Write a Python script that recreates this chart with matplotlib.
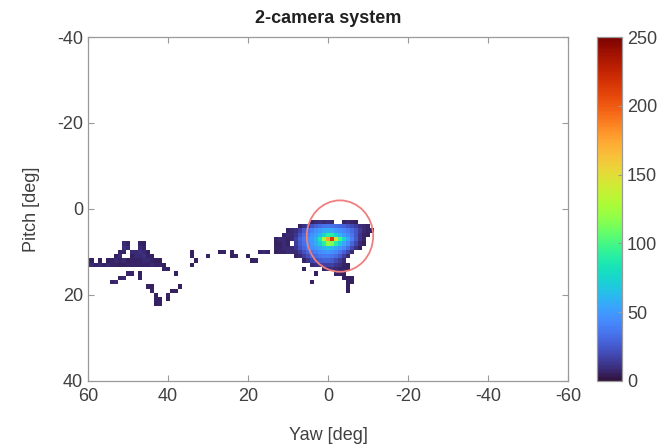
import numpy as np
import matplotlib
matplotlib.use("Agg")
import matplotlib.pyplot as plt
from matplotlib.patches import Circle

plt.rcParams['font.family'] = ['Liberation Sans', 'DejaVu Sans']
plt.rcParams['axes.unicode_minus'] = False

# ---- data (1-degree bins, cell centers) ----
blob_yaw = list(range(13, -12, -1))          # columns: yaw 13 .. -11
blob_pitch = list(range(3, 20))              # rows: pitch 3 .. 19
blob_counts = [
    [0, 0, 0, 0, 0, 0, 0, 0, 0, 6, 8, 10, 8, 10, 8, 0, 0, 6, 8, 6, 5, 0, 0, 0, 0],
    [0, 0, 0, 0, 0, 0, 6, 10, 16, 22, 28, 32, 35, 36, 34, 32, 30, 28, 24, 20, 15, 10, 8, 6, 0],
    [0, 0, 0, 6, 8, 10, 16, 26, 34, 40, 45, 50, 55, 58, 55, 50, 46, 42, 38, 32, 24, 14, 8, 6, 5],
    [0, 0, 6, 8, 8, 12, 22, 32, 40, 46, 52, 60, 75, 92, 90, 75, 60, 50, 44, 36, 24, 12, 6, 5, 0],
    [6, 8, 8, 6, 8, 16, 28, 36, 44, 50, 60, 85, 125, 175, 215, 150, 100, 78, 55, 40, 25, 12, 6, 0, 0],
    [5, 6, 8, 6, 0, 14, 26, 34, 42, 48, 56, 70, 90, 120, 115, 90, 70, 55, 44, 30, 18, 8, 5, 0, 0],
    [6, 6, 8, 8, 8, 12, 22, 30, 38, 44, 48, 54, 60, 66, 62, 54, 48, 42, 32, 20, 10, 5, 0, 0, 0],
    [5, 6, 6, 8, 8, 8, 14, 22, 30, 36, 40, 44, 46, 48, 46, 42, 36, 28, 18, 8, 0, 0, 0, 0, 0],
    [0, 0, 0, 0, 0, 6, 8, 14, 22, 28, 32, 36, 38, 38, 36, 32, 26, 16, 8, 0, 0, 0, 0, 0, 0],
    [0, 0, 0, 0, 0, 0, 0, 6, 12, 18, 22, 26, 28, 28, 26, 20, 14, 8, 0, 0, 0, 0, 0, 0, 0],
    [0, 0, 0, 0, 0, 0, 0, 0, 0, 8, 10, 14, 16, 16, 16, 12, 10, 6, 5, 0, 0, 0, 0, 0, 0],
    [0, 0, 0, 0, 0, 0, 0, 6, 0, 0, 0, 0, 6, 8, 10, 8, 6, 6, 5, 0, 0, 0, 0, 0, 0],
    [0, 0, 0, 0, 0, 0, 0, 0, 0, 0, 5, 0, 0, 0, 0, 6, 6, 5, 0, 0, 0, 0, 0, 0, 0],
    [0, 0, 0, 0, 0, 0, 0, 0, 0, 0, 0, 0, 0, 0, 0, 0, 0, 5, 5, 5, 0, 0, 0, 0, 0],
    [0, 0, 0, 0, 0, 0, 0, 0, 0, 5, 0, 0, 0, 0, 0, 0, 0, 0, 5, 5, 0, 0, 0, 0, 0],
    [0, 0, 0, 0, 0, 0, 0, 0, 0, 0, 0, 0, 0, 0, 0, 0, 0, 0, 5, 0, 0, 0, 0, 0, 0],
    [0, 0, 0, 0, 0, 0, 0, 0, 0, 0, 0, 0, 0, 0, 0, 0, 0, 0, 5, 0, 0, 0, 0, 0, 0],
]

# sparse cells away from the main cluster (yaw, pitch, count)
sparse_yaw = [60, 59, 58, 57, 56, 55, 54, 57, 55, 60, 59,
              54, 53, 53, 52, 52, 52, 53, 52,
              51, 51, 50, 50, 51, 49, 51, 49, 48, 50, 49, 51, 50, 49,
              47, 47, 46, 46,
              48, 47, 47, 47, 46, 46, 46, 46, 45, 45, 45, 48, 48, 47, 45, 44,
              44, 44, 43, 43, 42, 41, 41, 40, 38, 42,
              54, 53, 52, 51, 50, 49, 47, 47,
              45, 44, 44, 43, 43, 42, 42, 43, 40, 40, 39, 38, 37,
              34, 34, 34, 33, 30, 27, 26, 24, 24, 23, 20, 19, 18, 17, 16, 15]
sparse_pitch = [13, 13, 13, 13, 13, 13, 13, 12, 12, 12, 12,
                12, 11, 12, 10, 11, 12, 13, 13,
                8, 9, 8, 9, 10, 10, 12, 12, 10, 13, 13, 13, 12, 11,
                8, 9, 9, 8,
                11, 10, 11, 12, 10, 11, 12, 13, 11, 12, 13, 12, 13, 13, 10, 11,
                12, 13, 12, 13, 13, 13, 14, 14, 15, 12,
                17, 17, 16, 16, 15, 15, 15, 16,
                18, 18, 19, 20, 21, 21, 22, 22, 21, 20, 19, 19, 18,
                10, 11, 13, 12, 11, 10, 10, 10, 11, 11, 11, 12, 12, 10, 10, 10]
sparse_count = [6, 8, 6, 8, 6, 8, 6, 5, 5, 5, 5,
                6, 5, 8, 6, 8, 6, 6, 5,
                8, 10, 6, 8, 6, 8, 8, 6, 8, 6, 6, 5, 5, 5,
                6, 8, 6, 5,
                8, 10, 8, 6, 8, 10, 8, 6, 6, 8, 6, 6, 6, 6, 5, 5,
                6, 8, 5, 6, 6, 5, 6, 6, 5, 5,
                6, 8, 6, 8, 6, 6, 5, 5,
                6, 5, 6, 5, 6, 5, 6, 5, 5, 6, 5, 5, 5,
                5, 5, 5, 5, 6, 5, 6, 6, 5, 6, 5, 5, 6, 6, 8, 6]

title_text = "2-camera system"
x_label = "Yaw [deg]"
y_label = "Pitch [deg]"
x_ticks = [60, 40, 20, 0, -20, -40, -60]
y_ticks = [-40, -20, 0, 20, 40]
cbar_ticks = [0, 50, 100, 150, 200, 250]
circle_center = (-3, 6.3)
circle_radius = 8.3

# ---- build histogram grid ----
yaw_edges = np.arange(-60.5, 61.5, 1.0)
pitch_edges = np.arange(-40.5, 41.5, 1.0)
H = np.zeros((len(pitch_edges) - 1, len(yaw_edges) - 1))
for i, p in enumerate(blob_pitch):
    for j, y in enumerate(blob_yaw):
        H[p + 40, y + 60] += blob_counts[i][j]
for y, p, c in zip(sparse_yaw, sparse_pitch, sparse_count):
    H[p + 40, y + 60] = max(H[p + 40, y + 60], c)
Hm = np.ma.masked_where(H <= 0, H)

txt = '#404040'
edge = '#9a9a9a'
fs = 13

fig = plt.figure(figsize=(6.69, 4.48), dpi=100)
ax = fig.add_axes([0.1315, 0.1496, 0.7175, 0.7678])
cax = fig.add_axes([0.892, 0.1496, 0.038, 0.7678])

cmap = plt.get_cmap('turbo').copy()
cmap.set_bad('white')
mesh = ax.pcolormesh(yaw_edges, pitch_edges, Hm, cmap=cmap, vmin=0, vmax=250)

ax.add_patch(Circle(circle_center, circle_radius, fill=False,
                    edgecolor='#f07f7f', linewidth=1.3))

ax.set_xlim(60, -60)
ax.set_ylim(40, -40)
ax.set_xticks(x_ticks)
ax.set_yticks(y_ticks)
ax.tick_params(direction='in', top=True, right=True, length=4, width=0.8,
               color=edge, labelcolor=txt, labelsize=fs)
ax.tick_params(axis='x', pad=5)
for s in ax.spines.values():
    s.set_color(edge)
    s.set_linewidth(0.9)
ax.set_title(title_text, fontsize=fs, fontweight='bold', color='#202020', pad=10)
ax.set_xlabel(x_label, fontsize=fs, color=txt, labelpad=16)
ax.set_ylabel(y_label, fontsize=fs, color=txt, labelpad=12)

cb = fig.colorbar(mesh, cax=cax, ticks=cbar_ticks)
cb.outline.set_edgecolor(edge)
cb.outline.set_linewidth(0.9)
cax.tick_params(direction='in', length=3, color=edge, labelcolor=txt, labelsize=fs)

fig.savefig('out.png', dpi=100)
